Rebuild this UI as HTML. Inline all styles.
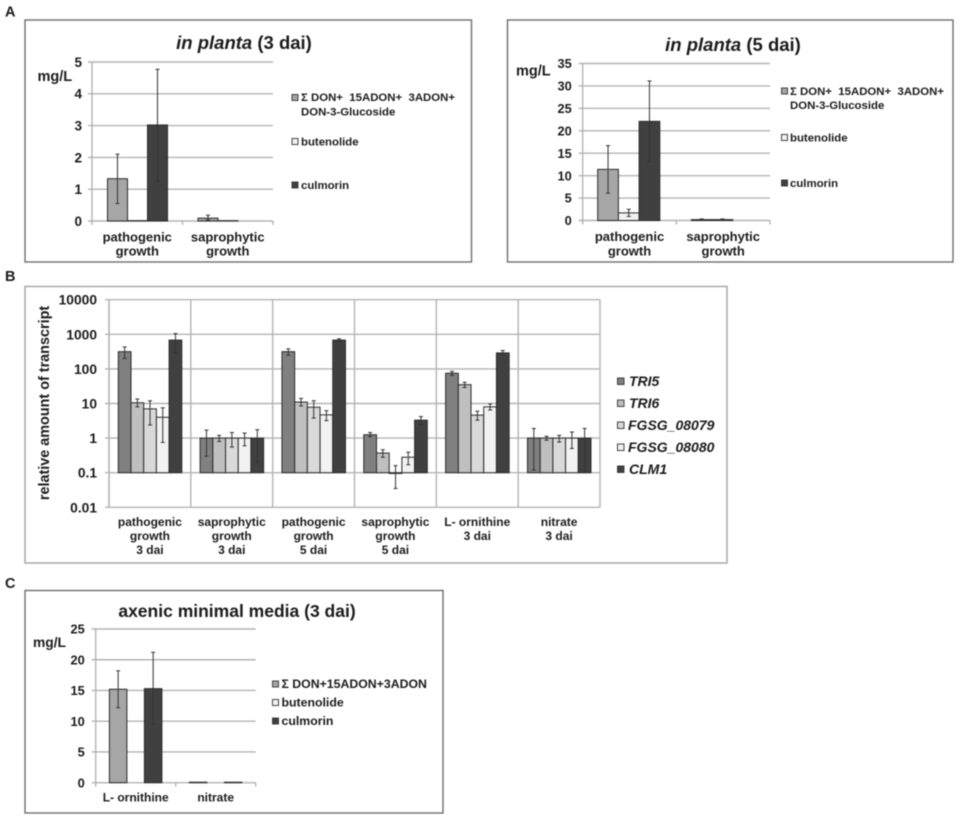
<!DOCTYPE html>
<html lang="en">
<head>
<meta charset="utf-8">
<title>Mycotoxin and transcript charts</title>
<style>
html,body{margin:0;padding:0;background:#fff;width:969px;height:820px;overflow:hidden}
#figure{display:block;filter:blur(0.4px)}
text{font-family:"Liberation Sans",sans-serif;font-weight:bold;fill:#1c1c1c}
.frame{fill:#fff;stroke:#6e6e6e;stroke-width:1.4}
.frame-b{fill:#fff;stroke:#a8a8a8;stroke-width:1.5}
.grid{stroke:#b4b4b4;stroke-width:1.4}
.axis{stroke:#b0b0b0;stroke-width:1.3}
.err{stroke:#333;stroke-width:1}
.bar{stroke:#2b2b2b;stroke-width:1}
.toxin .s0{fill:#a6a6a6}
.toxin .s1{fill:#f2f2f2}
.toxin .s2{fill:#404040}
.gene .s0{fill:#808080}
.gene .s1{fill:#bfbfbf}
.gene .s2{fill:#d9d9d9}
.gene .s3{fill:#f2f2f2}
.gene .s4{fill:#404040}
.sw{stroke:#333;stroke-width:0.9}
.title{font-size:18.5px}
.tick{font-size:13.5px;text-anchor:end}
.cat{font-size:13px;text-anchor:middle}
.leg{font-size:11.4px}
.unit{font-size:14.5px}
.letter{font-size:14.5px}
</style>
</head>
<body>
<svg id="figure" xmlns="http://www.w3.org/2000/svg" width="969" height="820" viewBox="0 0 969 820">
  <text class="letter" x="5" y="16.5">A</text>
  <text class="letter" x="5" y="281">B</text>
  <text class="letter" x="5" y="588">C</text>

  <g id="a1" class="toxin">
    <rect class="frame" x="25" y="20" width="446.5" height="242"/>
    <text class="title" x="244" y="49" text-anchor="middle"><tspan font-style="italic">in planta</tspan> (3 dai)</text>
    <text class="unit" x="37.5" y="81">mg/L</text>
    <rect class="sw s0" x="292" y="94.5" width="6" height="6"/>
    <text class="leg" x="301" y="101" xml:space="preserve">Σ DON+  15ADON+  3ADON+</text>
    <text class="leg" x="301" y="115.5">DON-3-Glucoside</text>
    <rect class="sw s1" x="292" y="138.5" width="6" height="6"/>
    <text class="leg" x="301" y="145.5">butenolide</text>
    <rect class="sw s2" x="292" y="182" width="6" height="6"/>
    <text class="leg" x="301" y="189">culmorin</text>
  </g>

  <g id="a2" class="toxin">
    <rect class="frame" x="507.5" y="20" width="445.5" height="242"/>
    <text class="title" x="733" y="51" text-anchor="middle"><tspan font-style="italic">in planta</tspan> (5 dai)</text>
    <text class="unit" x="516" y="75.5">mg/L</text>
    <rect class="sw s0" x="781.5" y="88" width="6" height="6"/>
    <text class="leg" x="790" y="95" xml:space="preserve">Σ DON+  15ADON+  3ADON+</text>
    <text class="leg" x="790" y="109">DON-3-Glucoside</text>
    <rect class="sw s1" x="781.5" y="134.5" width="6" height="6"/>
    <text class="leg" x="790" y="141.5">butenolide</text>
    <rect class="sw s2" x="781.5" y="180" width="6" height="6"/>
    <text class="leg" x="790" y="187">culmorin</text>
  </g>

  <g id="b" class="gene">
    <rect class="frame-b" x="25" y="286.5" width="702" height="276.5"/>
    <text x="49" y="403" font-size="14.4" text-anchor="middle" transform="rotate(-90 49 403)">relative amount of transcript</text>
    <rect class="sw s0" x="617.5" y="378" width="6.5" height="6.5"/>
    <text x="629" y="386" font-size="14" font-style="italic">TRI5</text>
    <rect class="sw s1" x="617.5" y="400" width="6.5" height="6.5"/>
    <text x="629" y="408" font-size="14" font-style="italic">TRI6</text>
    <rect class="sw s2" x="617.5" y="422" width="6.5" height="6.5"/>
    <text x="628" y="430" font-size="14" font-style="italic">FGSG_08079</text>
    <rect class="sw s3" x="617.5" y="444" width="6.5" height="6.5"/>
    <text x="628" y="452" font-size="14" font-style="italic">FGSG_08080</text>
    <rect class="sw s4" x="617.5" y="466" width="6.5" height="6.5"/>
    <text x="629" y="474" font-size="14" font-style="italic">CLM1</text>
  </g>

  <g id="c" class="toxin">
    <rect class="frame" x="25" y="590.5" width="418" height="222.5"/>
    <text x="237" y="617" font-size="17.5" text-anchor="middle">axenic minimal media (3 dai)</text>
    <text class="unit" x="33" y="647" style="font-size:13.8px">mg/L</text>
    <rect class="sw s0" x="272.5" y="681" width="6" height="6"/>
    <text x="281.5" y="688" font-size="12.3">Σ DON+15ADON+3ADON</text>
    <rect class="sw s1" x="272.5" y="699.5" width="6" height="6"/>
    <text x="281.5" y="706.5" font-size="12.3">butenolide</text>
    <rect class="sw s2" x="272.5" y="718" width="6" height="6"/>
    <text x="281.5" y="725" font-size="12.3">culmorin</text>
  </g>
</svg>

<script>
// ---------- Chart data: values ----------
// Panel A, in planta 3 dai
var a1Categories = ['pathogenic|growth', 'saprophytic|growth'];
var a1Series = ['don-sum', 'butenolide', 'culmorin'];
var a1Ticks = [0, 1, 2, 3, 4, 5];
var a1Don = [1.33, 0.09];
var a1DonLow = [0.55, 0.03];
var a1DonHigh = [2.1, 0.18];
var a1Butenolide = [0.01, 0.01];
var a1Culmorin = [3.02, 0];
var a1CulmorinLow = [1.25, 0];
var a1CulmorinHigh = [4.77, 0];

// Panel A, in planta 5 dai
var a2Categories = ['pathogenic|growth', 'saprophytic|growth'];
var a2Series = ['don-sum', 'butenolide', 'culmorin'];
var a2Ticks = [0, 5, 10, 15, 20, 25, 30, 35];
var a2Don = [11.4, 0.2];
var a2DonLow = [6.1, 0.1];
var a2DonHigh = [16.7, 0.35];
var a2Butenolide = [1.7, 0.2];
var a2ButenolideLow = [0.9, 0.1];
var a2ButenolideHigh = [2.5, 0.35];
var a2Culmorin = [22.1, 0];
var a2CulmorinLow = [13.1, 0];
var a2CulmorinHigh = [31.1, 0];

// Panel B, transcripts (log axis)
var bCategories = ['pathogenic|growth|3 dai', 'saprophytic|growth|3 dai', 'pathogenic|growth|5 dai', 'saprophytic|growth|5 dai', 'L- ornithine|3 dai', 'nitrate|3 dai'];
var bSeries = ['tri5', 'tri6', 'fgsg-08079', 'fgsg-08080', 'clm1'];
var bTicks = [0.01, 0.1, 1, 10, 100, 1000, 10000];
var bTri5 = [315, 1, 315, 1.25, 75, 1];
var bTri5Low = [200, 0.3, 250, 1.1, 65, 0.12];
var bTri5High = [430, 1.7, 380, 1.45, 85, 1.9];
var bTri6 = [10.5, 1, 11, 0.37, 35, 1];
var bTri6Low = [8, 0.8, 8.5, 0.28, 29, 0.87];
var bTri6High = [13.5, 1.2, 14, 0.46, 41, 1.13];
var b08079 = [7, 1, 7.8, 0.095, 4.6, 1];
var b08079Low = [2.4, 0.55, 3.8, 0.035, 3.3, 0.77];
var b08079High = [12, 1.45, 12, 0.16, 6, 1.2];
var b08080 = [4, 1, 4.7, 0.28, 8, 1];
var b08080Low = [0.75, 0.6, 3.2, 0.17, 6.5, 0.5];
var b08080High = [7.5, 1.4, 6.2, 0.39, 9.7, 1.5];
var bClm1 = [680, 1, 680, 3.3, 290, 1];
var bClm1Low = [300, 0.2, 620, 2.5, 250, 0.1];
var bClm1High = [1050, 1.75, 740, 4.2, 340, 1.9];

// Panel C, axenic minimal media
var cCategories = ['L- ornithine', 'nitrate'];
var cSeries = ['don-sum', 'butenolide', 'culmorin'];
var cTicks = [0, 5, 10, 15, 20, 25];
var cDon = [15.2, 0.08];
var cDonLow = [12.2, 0];
var cDonHigh = [18.2, 0];
var cButenolide = [0, 0];
var cCulmorin = [15.3, 0.08];
var cCulmorinLow = [9.5, 0];
var cCulmorinHigh = [21.2, 0];

// ---------- Drawing ----------
var NS = 'http://www.w3.org/2000/svg';

function make(tag, attrs, parent) {
  var el = document.createElementNS(NS, tag);
  for (var k in attrs) el.setAttribute(k, attrs[k]);
  parent.appendChild(el);
  return el;
}

function linearAxis(top, bottom, max) {
  return function (v) { return bottom - (v / max) * (bottom - top); };
}

function logAxis(top, bottom, minExp, maxExp) {
  return function (v) {
    return bottom - ((Math.log(v) / Math.LN10 - minExp) / (maxExp - minExp)) * (bottom - top);
  };
}

function drawChart(o) {
  var g = document.getElementById(o.id);
  var step = (o.right - o.left) / o.categories.length;
  var n = o.values.length;
  var xBase = o.y(o.base);
  var i, j;

  o.ticks.forEach(function (t) {
    var yy = o.y(t);
    var line = make('line', { 'class': 'grid', x1: o.left - 4, x2: o.right, y1: yy, y2: yy }, g);
    
    
    var label = make('text', { 'class': 'tick', x: o.left - o.tickGap, y: yy + o.tickSize * 0.36, style: 'font-size:' + o.tickSize + 'px' }, g);
    
    
    label.textContent = String(t);
  });

  var yAxis = make('line', { 'class': 'axis', x1: o.left, x2: o.left, y1: o.y(o.ticks[o.ticks.length - 1]), y2: o.bottomLine }, g);
  
  

  for (i = 0; i <= o.categories.length; i++) {
    var xt = o.left + step * i;
    var tick = make('line', {
      'class': o.fullDividers ? 'grid' : 'axis',
      x1: xt, x2: xt,
      y1: o.fullDividers ? o.y(o.ticks[o.ticks.length - 1]) : o.bottomLine,
      y2: o.fullDividers ? o.bottomLine : o.bottomLine + 4
    }, g);
    
    
  }

  o.categories.forEach(function (c, ci) {
    var cx = o.left + step * (ci + 0.5);
    c.split('|').forEach(function (part, li) {
      var t = make('text', { 'class': 'cat', x: cx + o.labelShift, y: o.labelY + li * o.labelLead, style: 'font-size:' + o.labelSize + 'px' }, g);
      
      
      t.textContent = part;
    });
  });

  for (j = 0; j < n; j++) {
    for (i = 0; i < o.categories.length; i++) {
      var v = o.values[j][i];
      if (!v) continue;
      var bx = o.left + step * i + o.pad + o.barW * j;
      var by = o.y(v);
      var bar = make('rect', {
        'class': 'bar s' + j,
        x: bx, y: Math.min(by, xBase),
        width: o.barW, height: Math.abs(xBase - by)
      }, g);
      
      
    }
  }

  for (j = 0; j < n; j++) {
    if (!o.low[j]) continue;
    for (i = 0; i < o.categories.length; i++) {
      if (!o.high[j][i]) continue;
      var ex = o.left + step * i + o.pad + o.barW * (j + 0.5);
      var y1 = o.y(o.low[j][i]);
      var y2 = o.y(o.high[j][i]);
      var stem = make('line', { 'class': 'err', x1: ex, x2: ex, y1: y1, y2: y2 }, g);
      
      
      var capA = make('line', { 'class': 'err', x1: ex - 2, x2: ex + 2, y1: y1, y2: y1 }, g);
      
      
      var capB = make('line', { 'class': 'err', x1: ex - 2, x2: ex + 2, y1: y2, y2: y2 }, g);
      
      
    }
  }
}

drawChart({
  id: 'a1', categories: a1Categories, series: a1Series, ticks: a1Ticks,
  values: [a1Don, a1Butenolide, a1Culmorin],
  low: [a1DonLow, null, a1CulmorinLow], high: [a1DonHigh, null, a1CulmorinHigh],
  y: linearAxis(62, 221, 5), base: 0, bottomLine: 221,
  left: 92, right: 273, pad: 15.5, barW: 20,
  tickGap: 10, tickSize: 13.5, labelY: 241.5, labelLead: 14.2, labelSize: 13, labelShift: 0
});

drawChart({
  id: 'a2', categories: a2Categories, series: a2Series, ticks: a2Ticks,
  values: [a2Don, a2Butenolide, a2Culmorin],
  low: [a2DonLow, a2ButenolideLow, a2CulmorinLow], high: [a2DonHigh, a2ButenolideHigh, a2CulmorinHigh],
  y: linearAxis(63.5, 220.5, 35), base: 0, bottomLine: 220.5,
  left: 582.7, right: 770, pad: 15, barW: 20.7,
  tickGap: 11, tickSize: 12.8, labelY: 241, labelLead: 14.6, labelSize: 13, labelShift: 0
});

drawChart({
  id: 'b', categories: bCategories, series: bSeries, ticks: bTicks,
  values: [bTri5, bTri6, b08079, b08080, bClm1],
  low: [bTri5Low, bTri6Low, b08079Low, b08080Low, bClm1Low],
  high: [bTri5High, bTri6High, b08079High, b08080High, bClm1High],
  y: logAxis(299.7, 507.3, -2, 4), base: 0.1, bottomLine: 507.3, fullDividers: true,
  left: 109, right: 600, pad: 9.3, barW: 12.7,
  tickGap: 12, tickSize: 13.8, labelY: 526, labelLead: 14, labelSize: 12, labelShift: 0
});

drawChart({
  id: 'c', categories: cCategories, series: cSeries, ticks: cTicks,
  values: [cDon, cButenolide, cCulmorin],
  low: [cDonLow, null, cCulmorinLow], high: [cDonHigh, null, cCulmorinHigh],
  y: linearAxis(629, 782.7, 25), base: 0, bottomLine: 782.7,
  left: 95.7, right: 255.7, pad: 13.7, barW: 17.5,
  tickGap: 11, tickSize: 12.8, labelY: 801.5, labelLead: 14, labelSize: 12, labelShift: 0
});
</script>
</body>
</html>
